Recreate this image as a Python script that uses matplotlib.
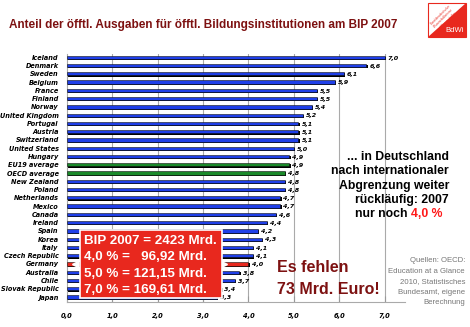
import numpy as np
import matplotlib.pyplot as plt
from matplotlib.patches import Rectangle, Polygon

# data
countries = ["Iceland", "Denmark", "Sweden", "Belgium", "France", "Finland", "Norway",
             "United Kingdom", "Portugal", "Austria", "Switzerland", "United States",
             "Hungary", "EU19 average", "OECD average", "New Zealand", "Poland",
             "Netherlands", "Mexico", "Canada", "Ireland", "Spain", "Korea", "Italy",
             "Czech Republic", "Germany", "Australia", "Chile", "Slovak Republic", "Japan"]
values = [7.0, 6.6, 6.1, 5.9, 5.5, 5.5, 5.4, 5.2, 5.1, 5.1, 5.1, 5.0, 4.9, 4.9, 4.8,
          4.8, 4.8, 4.7, 4.7, 4.6, 4.4, 4.2, 4.3, 4.1, 4.1, 4.0, 3.8, 3.7, 3.4, 3.3]
xticks = [0, 1, 2, 3, 4, 5, 6, 7]

box_lines = ["BIP 2007 = 2423 Mrd.", "4,0 % =   96,92 Mrd.",
             "5,0 % = 121,15 Mrd.", "7,0 % = 169,61 Mrd."]

BLUE = "#1f3fe8"
GREEN = "#1a8a2a"
RED = "#e8281e"
DARKRED = "#7d1111"

colors = []
for c in countries:
    if "average" in c:
        colors.append(GREEN)
    elif c == "Germany":
        colors.append(RED)
    else:
        colors.append(BLUE)

fig = plt.figure(figsize=(4.7, 3.27), dpi=100)
ax = fig.add_axes([67 / 470, 1 - 302 / 327, 338 / 470, 248 / 327])

y = np.arange(len(countries))
# shadow + bar
ax.barh(y + 0.13, values, height=0.42, color="black", left=0.03, zorder=2)
ax.barh(y, values, height=0.4, color=colors, edgecolor="#111111", linewidth=0.4, zorder=3)

for yi, v in zip(y, values):
    ax.text(v + 0.07, yi + 0.1, f"{v:.1f}".replace(".", ","), fontsize=4.6,
            fontstyle="italic", fontweight="bold", va="center", ha="left", zorder=4)

ax.set_xlim(0, 7.45)
ax.set_ylim(len(countries) - 0.4, -0.4)
ax.set_yticks(y)
ax.set_yticklabels(countries, fontsize=4.7, fontstyle="italic", fontweight="bold")
ax.tick_params(axis="y", length=0, pad=6)
ax.set_xticks(xticks)
ax.set_xticklabels([f"{t:.1f}".replace(".", ",") for t in xticks], fontsize=4.8,
                   fontstyle="italic", fontweight="bold")
ax.tick_params(axis="x", length=4, color="#999999", pad=8, direction="in")
for t in xticks[1:]:
    ax.axvline(t, color="#aaaaaa", linewidth=0.8, zorder=1)
for s in ["top", "right"]:
    ax.spines[s].set_visible(False)
ax.spines["left"].set_color("#aaaaaa")
ax.spines["bottom"].set_color("#aaaaaa")

# title
fig.text(9 / 470, 1 - 25 / 327, "Anteil der öfftl. Ausgaben für öfftl. Bildungsinstitutionen am BIP 2007",
         fontsize=8.5, fontweight="bold", color=DARKRED, family="Liberation Sans", va="center")

# logo
lx, ly, lw, lh = 428 / 470, 1 - 37 / 327, 38 / 470, 34 / 327
fig.patches.append(Rectangle((lx, ly), lw, lh, transform=fig.transFigure,
                             facecolor="white", edgecolor=RED, linewidth=0.8))
fig.patches.append(Polygon([(lx + lw, ly + lh), (lx + lw, ly), (lx, ly)], closed=True,
                           transform=fig.transFigure, facecolor=RED, edgecolor="none"))
fig.text(lx + lw * 0.42, ly + lh * 0.55, "Bund demokratischer\nWissenschaftlerinnen\nund Wissenschaftler",
         fontsize=2, color=RED, rotation=45, ha="center", va="center", family="Liberation Sans")
fig.text(lx + lw - 0.004, ly + 0.008, "BdWi", fontsize=5.5, color="white", ha="right", va="bottom",
         family="Liberation Sans")

# red box
bx0, bx1 = 80 / 470, 222 / 470
by0, by1 = 1 - 298 / 327, 1 - 230 / 327
fig.patches.append(Rectangle((bx0, by0), bx1 - bx0, by1 - by0, transform=fig.transFigure,
                             facecolor=RED, edgecolor="white", linewidth=1.2, zorder=5))
gy = countries.index("Germany")
ax.plot([0.18], [gy], marker="<", color="white", markersize=4, zorder=6, clip_on=False)
ax.plot([3.45], [gy], marker=">", color="white", markersize=4, zorder=6, clip_on=False)
for i, line in enumerate(box_lines):
    fig.text(84 / 470, 1 - (241 + i * 16.3) / 327, line, fontsize=9.6, fontweight="bold",
             color="white", va="center", family="Liberation Sans", zorder=7)

# right side text
rt = ["... in Deutschland", "nach internationaler", "Abgrenzung weiter", "rückläufig: 2007"]
for i, line in enumerate(rt):
    fig.text(449 / 470, 1 - (157 + i * 14.3) / 327, line, fontsize=8.8, fontweight="bold",
             ha="right", va="center", family="Liberation Sans")
fig.text(411 / 470, 1 - 214 / 327, "nur noch ", fontsize=8.8, fontweight="bold",
         ha="right", va="center", family="Liberation Sans")
fig.text(411 / 470, 1 - 214 / 327, "4,0 %", fontsize=8.8, fontweight="bold", color="#ff1a1a",
         ha="left", va="center", family="Liberation Sans")

fig.text(277 / 470, 1 - 268 / 327, "Es fehlen", fontsize=11.5, fontweight="bold", color=DARKRED,
         va="center", family="Liberation Sans")
fig.text(277 / 470, 1 - 290 / 327, "73 Mrd. Euro!", fontsize=11.5, fontweight="bold", color=DARKRED,
         va="center", family="Liberation Sans")

src = ["Quellen: OECD:", "Education at a Glance", "2010, Statistisches", "Bundesamt, eigene", "Berechnung"]
for i, line in enumerate(src):
    fig.text(465 / 470, 1 - (261 + i * 10.4) / 327, line, fontsize=5.6, color="#777777",
             ha="right", va="center", family="Liberation Sans")

fig.savefig("out.png", dpi=100)
